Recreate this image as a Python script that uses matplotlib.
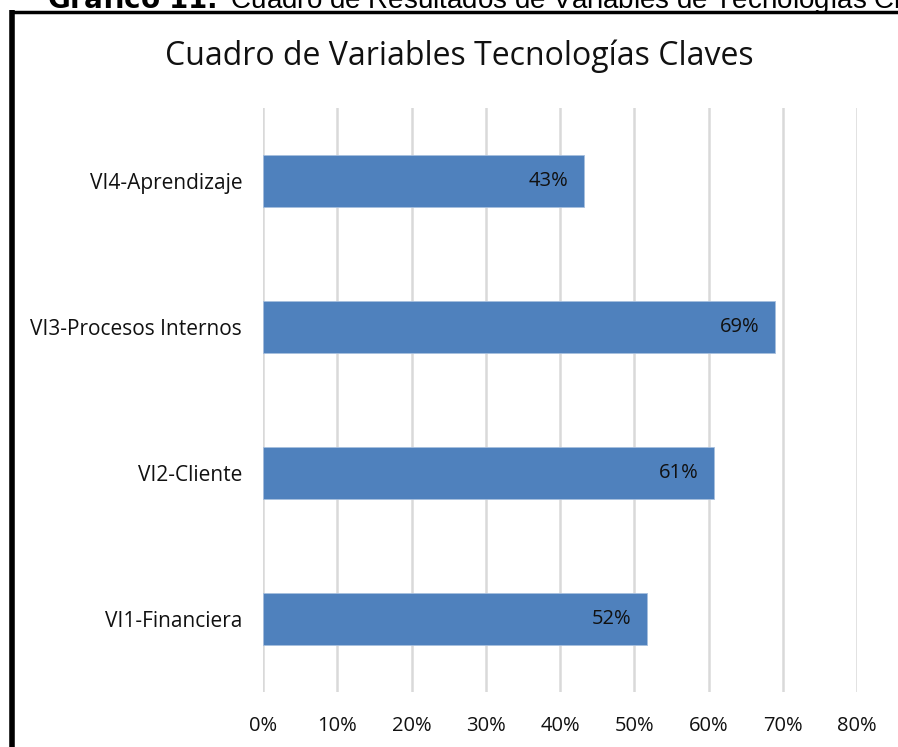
import matplotlib
matplotlib.use("Agg")
import matplotlib.pyplot as plt
from matplotlib.lines import Line2D

# Data
categorias = ["VI1-Financiera", "VI2-Cliente", "VI3-Procesos Internos", "VI4-Aprendizaje"]
valores = [0.517, 0.608, 0.690, 0.432]
ticks_x = [0, 0.1, 0.2, 0.3, 0.4, 0.5, 0.6, 0.7, 0.8]

W, H = 898, 747
fig = plt.figure(figsize=(W / 100, H / 100), dpi=100)
fig.patch.set_facecolor("white")

ax = fig.add_axes([263 / W, 1 - 692 / H, (857 - 263) / W, (692 - 108) / H])
ypos = range(len(categorias))
bars = ax.barh(ypos, valores, height=0.36, color="#4F81BD", edgecolor="#A7BFDE",
               linewidth=0.6, zorder=3)

for b, v in zip(bars, valores):
    ax.text(b.get_width() - 0.021, b.get_y() + b.get_height() / 2, f"{v:.0%}",
            ha="right", va="center", fontsize=14.5, family="Open Sans",
            color="#111111", zorder=4)

ax.set_xlim(0, 0.8)
ax.set_ylim(-0.5, 3.5)
ax.set_yticks(list(ypos))
ax.set_yticklabels(categorias, family="Open Sans", fontsize=15, color="#111111")
ax.set_xticks(ticks_x)
ax.set_xticklabels([f"{t:.0%}" for t in ticks_x], family="Open Sans", fontsize=14.5,
                   color="#111111")
ax.tick_params(axis="both", length=0)
ax.tick_params(axis="y", pad=15)
ax.tick_params(axis="x", pad=17)
ax.grid(axis="x", color="#D9D9D9", linewidth=1.8, zorder=0)
for s in ax.spines.values():
    s.set_visible(False)

fig.text(459 / W, 1 - 56 / H, "Cuadro de Variables Tecnologías Claves", ha="center",
         va="center", fontsize=23, family="Open Sans", color="#111111")

# caption cut at the top of the image
fig.text(47 / W, 1 - 8 / H, r"$\bf{Gráfico\ 11.}$ Cuadro de Resultados de Variables de Tecnologías Claves",
         ha="left", va="baseline", fontsize=20, family="Liberation Sans", color="black")

# black frame
fig.add_artist(Line2D([11.5 / W, 11.5 / W], [0, 1 - 10 / H], color="black", linewidth=4,
                      solid_capstyle="butt", transform=fig.transFigure))
fig.add_artist(Line2D([9.5 / W, 1], [1 - 11.5 / H, 1 - 11.5 / H], color="black", linewidth=2.5,
                      solid_capstyle="butt", transform=fig.transFigure))

fig.savefig("out.png", dpi=100)
